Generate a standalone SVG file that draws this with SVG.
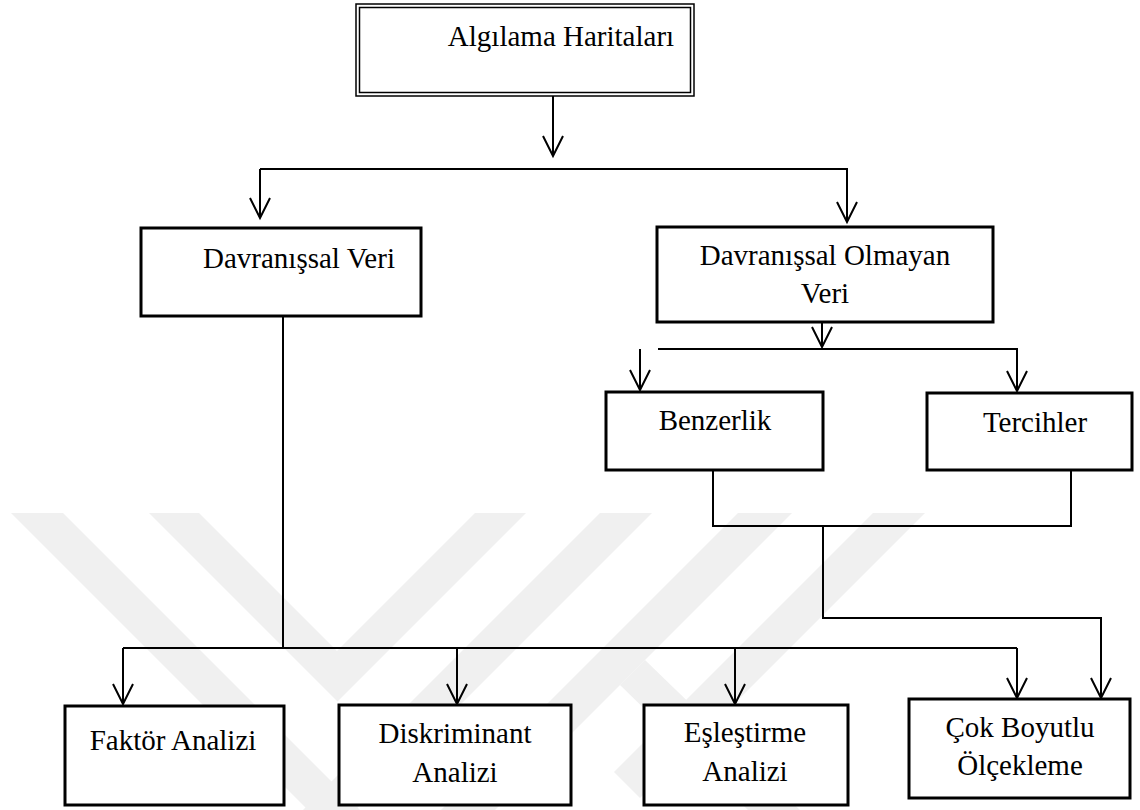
<svg xmlns="http://www.w3.org/2000/svg" width="1140" height="810" viewBox="0 0 1140 810">
<style>
.box{fill:#fff;stroke:#000;stroke-width:3}
.c{fill:none;stroke:#000;stroke-width:2}
.t{font-family:"Liberation Serif","Times New Roman",serif;font-size:29px;fill:#000;text-anchor:middle}
.wm{fill:#f0f0f0}
</style>
<defs>
<marker id="ar" markerUnits="userSpaceOnUse" viewBox="0 0 22 22" markerWidth="22" markerHeight="22" refX="21" refY="11" orient="auto" overflow="visible">
<path d="M1,1 L21,11 L1,21" fill="none" stroke="#000" stroke-width="2"/>
</marker>
</defs>
<rect width="1140" height="810" fill="#fff"/>
<g id="watermark">
<polygon class="wm" points="11,513 63,513 360,810 308,810"/>
<polygon class="wm" points="149,513 199,513 337,651 475,513 526,513 337.5,701.5"/>
<polygon class="wm" points="600,513 652,513 355,810 303,810"/>
<polygon class="wm" points="738,513 792,513 495,810 441,810"/>
<polygon class="wm" points="873,513 925,513 640,798 614,772"/>
<polygon class="wm" points="645,660 800,810 748,810 620,685"/>
</g>
<g id="connectors">
<path class="c" d="M553,96 V156" marker-end="url(#ar)"/>
<path class="c" d="M260,169 H848"/>
<path class="c" d="M260,169 V218" marker-end="url(#ar)"/>
<path class="c" d="M847,169 V222" marker-end="url(#ar)"/>
<path class="c" d="M822,322 V347" marker-end="url(#ar)"/>
<path class="c" d="M658,349 H1017 V391" marker-end="url(#ar)"/>
<path class="c" d="M640,349 V390" marker-end="url(#ar)"/>
<path class="c" d="M713,470 V526 H1071 V471"/>
<path class="c" d="M823,526 V618 H1101 V698" marker-end="url(#ar)"/>
<path class="c" d="M283,316 V648"/>
<path class="c" d="M123,648 H1017"/>
<path class="c" d="M123,648 V704" marker-end="url(#ar)"/>
<path class="c" d="M457,648 V704" marker-end="url(#ar)"/>
<path class="c" d="M735,648 V704" marker-end="url(#ar)"/>
<path class="c" d="M1017,648 V698" marker-end="url(#ar)"/>
</g>
<g id="n-algilama">
<rect x="356" y="4" width="338" height="92" fill="#fff" stroke="#000" stroke-width="1.5"/>
<rect x="359.5" y="7.5" width="331" height="85" fill="none" stroke="#000" stroke-width="1.5"/>
<text class="t" x="561" y="46">Algılama Haritaları</text>
</g>
<g id="n-davranissal">
<rect class="box" x="141" y="228" width="280" height="88"/>
<text class="t" x="299" y="268">Davranışsal Veri</text>
</g>
<g id="n-olmayan">
<rect class="box" x="657" y="227" width="336" height="95"/>
<text class="t" x="825" y="265">Davranışsal Olmayan</text>
<text class="t" x="825" y="303">Veri</text>
</g>
<g id="n-benzerlik">
<rect class="box" x="606" y="392" width="217" height="78"/>
<text class="t" x="715" y="430">Benzerlik</text>
</g>
<g id="n-tercihler">
<rect class="box" x="927" y="393" width="205" height="77"/>
<text class="t" x="1035" y="432">Tercihler</text>
</g>
<g id="n-faktor">
<rect class="box" x="65" y="706" width="219" height="99"/>
<text class="t" x="173" y="750">Faktör Analizi</text>
</g>
<g id="n-diskriminant">
<rect class="box" x="339" y="705" width="232" height="100"/>
<text class="t" x="455" y="743">Diskriminant</text>
<text class="t" x="455" y="782">Analizi</text>
</g>
<g id="n-eslestirme">
<rect class="box" x="644" y="705" width="204" height="100"/>
<text class="t" x="745" y="742">Eşleştirme</text>
<text class="t" x="745" y="781">Analizi</text>
</g>
<g id="n-cok">
<rect class="box" x="909" y="699" width="221" height="99"/>
<text class="t" x="1020" y="737">Çok Boyutlu</text>
<text class="t" x="1020" y="775">Ölçekleme</text>
</g>
</svg>
